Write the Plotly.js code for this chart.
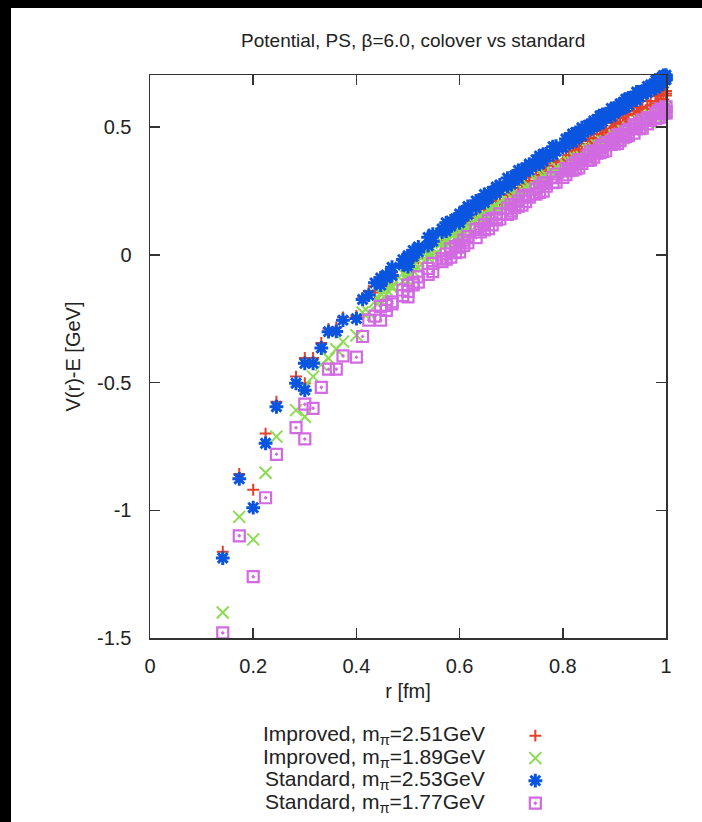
<!DOCTYPE html>
<html>
<head>
<meta charset="utf-8">
<script src="https://cdn.plot.ly/plotly-3.0.1.min.js"></script>
<style>
  html, body { margin: 0; padding: 0; background: #000; width: 702px; height: 822px; overflow: hidden; }
  #chart { position: absolute; left: 11px; top: 8px; width: 691px; height: 850px; background: #fff; }
</style>
</head>
<body>
<div id="chart"></div>
<script>
// lattice separations r [fm] (first set of lattice vectors)
const r = [0.141,0.173,0.200,0.224,0.245,0.283,0.300,0.300,0.316,0.332,0.346,0.361,0.374,0.400,0.412,0.424,0.436,0.447,0.458,0.469,0.490,0.500,0.500,0.510,0.520,0.539,0.548,0.566,0.574,0.583,0.592,0.600,0.600,0.608,0.616,0.632,0.640,0.648,0.656,0.663,0.671,0.678,0.693,0.700,0.700,0.707,0.714,0.721,0.728,0.735,0.748,0.755,0.762,0.768,0.781,0.787,0.800,0.806,0.812,0.819,0.825,0.831,0.837,0.849,0.854,0.860,0.866,0.872,0.877,0.883,0.894,0.900,0.900,0.906,0.911,0.917,0.922,0.927,0.938,0.943,0.949,0.954,0.964,0.970,0.980,0.985,0.990,0.995,1.000,1.000];
// further lattice vectors at r >= 0.44 fm
const rExtra = [0.447,0.458,0.469,0.490,0.500,0.510,0.520,0.539,0.548,0.566,0.574,0.583,0.592,0.600,0.608,0.616,0.632,0.640,0.648,0.656,0.663,0.671,0.678,0.693,0.700,0.707,0.714,0.721,0.728,0.735,0.748,0.755,0.762,0.768,0.781,0.787,0.806,0.812,0.819,0.825,0.831,0.837,0.849,0.854,0.860,0.866,0.872,0.877,0.883,0.894,0.900,0.906,0.911,0.917,0.922,0.927,0.938,0.943,0.949,0.954,0.964,0.970,0.980,0.985,0.990,0.995,1.000];

// V(r)-E [GeV]
const improved251 = [-1.162,-0.858,-0.920,-0.700,-0.575,-0.477,-0.503,-0.404,-0.404,-0.345,-0.290,-0.285,-0.245,-0.240,-0.170,-0.142,-0.148,-0.109,-0.114,-0.069,-0.051,-0.066,-0.016,-0.024,0.013,0.015,0.049,0.051,0.090,0.088,0.120,0.093,0.130,0.116,0.147,0.145,0.181,0.178,0.209,0.195,0.227,0.210,0.250,0.234,0.261,0.245,0.280,0.276,0.305,0.290,0.330,0.312,0.341,0.325,0.368,0.361,0.368,0.406,0.389,0.419,0.401,0.428,0.412,0.453,0.447,0.473,0.457,0.487,0.467,0.494,0.484,0.497,0.517,0.511,0.537,0.520,0.549,0.529,0.563,0.545,0.577,0.570,0.602,0.585,0.620,0.600,0.626,0.608,0.623,0.641];
const improved251Extra = [-0.125,-0.082,-0.089,-0.043,-0.048,-0.008,-0.015,0.039,0.033,0.083,0.070,0.096,0.088,0.102,0.140,0.131,0.177,0.161,0.186,0.177,0.211,0.199,0.234,0.234,0.241,0.277,0.260,0.284,0.273,0.306,0.302,0.336,0.325,0.357,0.348,0.369,0.374,0.405,0.391,0.425,0.412,0.444,0.433,0.455,0.441,0.473,0.459,0.491,0.478,0.516,0.503,0.519,0.505,0.536,0.521,0.553,0.547,0.577,0.557,0.578,0.570,0.601,0.592,0.624,0.610,0.640,0.631];
const improved189 = [-1.400,-1.026,-1.114,-0.853,-0.712,-0.608,-0.634,-0.515,-0.477,-0.430,-0.405,-0.370,-0.340,-0.315,-0.226,-0.226,-0.183,-0.152,-0.156,-0.129,-0.072,-0.104,-0.064,-0.043,-0.051,0.001,0.024,0.028,0.048,0.081,0.065,0.057,0.090,0.079,0.111,0.142,0.129,0.147,0.177,0.160,0.192,0.178,0.208,0.194,0.225,0.211,0.227,0.256,0.238,0.268,0.262,0.291,0.308,0.292,0.315,0.343,0.319,0.351,0.334,0.362,0.377,0.360,0.374,0.408,0.388,0.416,0.400,0.427,0.442,0.424,0.439,0.439,0.465,0.445,0.473,0.456,0.482,0.497,0.486,0.498,0.523,0.502,0.536,0.518,0.550,0.564,0.545,0.557,0.559,0.579];
const improved189Extra = [-0.180,-0.136,-0.121,-0.104,-0.076,-0.063,-0.023,-0.011,-0.004,0.048,0.056,0.049,0.089,0.070,0.107,0.099,0.114,0.149,0.155,0.145,0.184,0.172,0.206,0.196,0.197,0.231,0.235,0.224,0.262,0.248,0.290,0.279,0.280,0.312,0.323,0.311,0.331,0.362,0.350,0.349,0.380,0.382,0.376,0.412,0.396,0.428,0.415,0.414,0.444,0.447,0.433,0.469,0.453,0.484,0.470,0.469,0.506,0.506,0.491,0.526,0.516,0.546,0.538,0.536,0.565,0.565,0.555];
const standard253 = [-1.187,-0.877,-0.990,-0.738,-0.595,-0.503,-0.530,-0.425,-0.425,-0.365,-0.301,-0.300,-0.256,-0.250,-0.175,-0.158,-0.110,-0.119,-0.079,-0.081,-0.019,-0.046,-0.004,0.017,0.011,0.068,0.053,0.101,0.093,0.132,0.129,0.125,0.160,0.151,0.189,0.183,0.214,0.204,0.241,0.236,0.265,0.253,0.300,0.277,0.300,0.310,0.298,0.334,0.328,0.355,0.352,0.387,0.366,0.395,0.391,0.425,0.419,0.453,0.439,0.473,0.451,0.479,0.465,0.507,0.499,0.524,0.510,0.544,0.521,0.548,0.541,0.554,0.574,0.566,0.591,0.576,0.609,0.586,0.620,0.605,0.637,0.628,0.659,0.644,0.683,0.660,0.686,0.670,0.685,0.703];
const standard253Extra = [-0.091,-0.091,-0.049,-0.039,-0.020,-0.007,0.031,0.036,0.081,0.089,0.125,0.112,0.141,0.136,0.171,0.157,0.211,0.202,0.236,0.221,0.248,0.241,0.273,0.268,0.288,0.298,0.330,0.314,0.340,0.331,0.372,0.355,0.394,0.383,0.423,0.405,0.429,0.459,0.441,0.479,0.467,0.497,0.487,0.511,0.500,0.530,0.512,0.549,0.536,0.573,0.560,0.578,0.567,0.596,0.577,0.614,0.608,0.637,0.617,0.640,0.635,0.664,0.651,0.688,0.674,0.702,0.693];
const standard177 = [-1.480,-1.100,-1.260,-0.951,-0.781,-0.677,-0.721,-0.585,-0.601,-0.519,-0.448,-0.448,-0.396,-0.401,-0.320,-0.256,-0.240,-0.256,-0.198,-0.184,-0.160,-0.165,-0.119,-0.110,-0.107,-0.077,-0.034,-0.027,0.003,-0.009,0.032,0.011,0.038,0.037,0.047,0.099,0.089,0.117,0.102,0.141,0.144,0.140,0.158,0.163,0.196,0.184,0.210,0.194,0.232,0.233,0.237,0.244,0.281,0.268,0.302,0.284,0.303,0.337,0.337,0.331,0.336,0.372,0.358,0.389,0.371,0.406,0.406,0.400,0.404,0.439,0.432,0.434,0.454,0.436,0.471,0.469,0.462,0.467,0.508,0.493,0.515,0.495,0.536,0.534,0.533,0.537,0.571,0.554,0.559,0.579];
const standard177Extra = [-0.202,-0.218,-0.192,-0.138,-0.143,-0.118,-0.087,-0.053,-0.066,-0.015,-0.017,0.023,0.008,0.030,0.057,0.071,0.067,0.101,0.097,0.134,0.117,0.136,0.160,0.182,0.172,0.196,0.190,0.226,0.208,0.225,0.257,0.268,0.249,0.280,0.282,0.316,0.313,0.329,0.351,0.360,0.340,0.370,0.369,0.403,0.382,0.398,0.420,0.428,0.407,0.444,0.446,0.468,0.447,0.461,0.482,0.491,0.476,0.505,0.495,0.527,0.512,0.526,0.553,0.561,0.539,0.566,0.555];

const seriesNames = ['Improved, m<sub>π</sub>=2.51GeV','Improved, m<sub>π</sub>=1.89GeV','Standard, m<sub>π</sub>=2.53GeV','Standard, m<sub>π</sub>=1.77GeV'];
const xTickVals = [0, 0.2, 0.4, 0.6, 0.8, 1];
const xTickText = ['0', '0.2', '0.4', '0.6', '0.8', '1'];
const yTickVals = [-1.5, -1, -0.5, 0, 0.5];
const yTickText = ['-1.5', '-1', '-0.5', '0', '0.5'];

const FONT = 'Liberation Sans, Arial, Helvetica, sans-serif';
const styles = [
  {symbol: 'cross-thin-open', size: 8.5, color: '#e4402a', lw: 2},
  {symbol: 'x-thin-open', size: 12, color: '#8cdc52', lw: 2},
  {symbol: 'asterisk-open', size: 11.5, color: '#0a55e0', lw: 3},
  {symbol: 'square-open-dot', size: 11, color: '#d26ae2', lw: 2.2}
];
const seriesY = [[improved251, improved251Extra], [improved189, improved189Extra],
                 [standard253, standard253Extra], [standard177, standard177Extra]];

const traces = seriesY.map((pair, i) => ({
  type: 'scatter', mode: 'markers', x: r.concat(rExtra), y: pair[0].concat(pair[1]),
  name: '\u00a0', cliponaxis: false, showlegend: true,
  marker: {symbol: styles[i].symbol, size: styles[i].size, color: styles[i].color,
           line: {color: styles[i].color, width: styles[i].lw}}
}));

const rowY = [-0.1723, -0.2131, -0.2522, -0.2931];
const annotations = seriesNames.map((t, i) => ({
  xref: 'paper', yref: 'paper', x: 0.653, y: rowY[i], xanchor: 'right', yanchor: 'middle',
  text: t, showarrow: false, font: {family: FONT, size: 21, color: '#222'}
}));

const axisCommon = {
  showgrid: false, zeroline: false, showline: true, linecolor: '#333', linewidth: 1.5,
  mirror: 'allticks', ticks: 'inside', ticklen: 10, tickwidth: 1.5, tickcolor: '#333',
  tickfont: {family: FONT, size: 20, color: '#222'}
};

const layout = {
  width: 691, height: 850,
  margin: {l: 139, r: 36, t: 67, b: 220},
  paper_bgcolor: '#fff', plot_bgcolor: '#fff',
  font: {family: FONT, color: '#222'},
  title: {text: 'Potential, PS, β=6.0, colover vs standard', font: {family: FONT, size: 19, color: '#222'},
          x: 0.51, xref: 'paper', xanchor: 'center', y: 1 - 32 / 850, yref: 'container', yanchor: 'middle'},
  xaxis: Object.assign({}, axisCommon, {range: [0, 1], tickvals: xTickVals, ticktext: xTickText,
          ticklabelstandoff: 9,
          title: {text: 'r [fm]', font: {family: FONT, size: 20, color: '#222'}, standoff: 8}}),
  yaxis: Object.assign({}, axisCommon, {range: [-1.5, 0.7035], tickvals: yTickVals, ticktext: yTickText,
          ticklabelstandoff: 13,
          title: {text: 'V(r)-E [GeV]', font: {family: FONT, size: 20, color: '#222'}, standoff: 11}}),
  showlegend: true,
  legend: {x: 0.708, y: -0.1446, xanchor: 'left', yanchor: 'top', xref: 'paper', yref: 'paper',
           bgcolor: 'rgba(0,0,0,0)', borderwidth: 0, tracegroupgap: 0,
           font: {family: FONT, size: 15}, itemwidth: 30},
  annotations: annotations
};

Plotly.newPlot('chart', traces, layout, {displayModeBar: false, staticPlot: true});
</script>
</body>
</html>
